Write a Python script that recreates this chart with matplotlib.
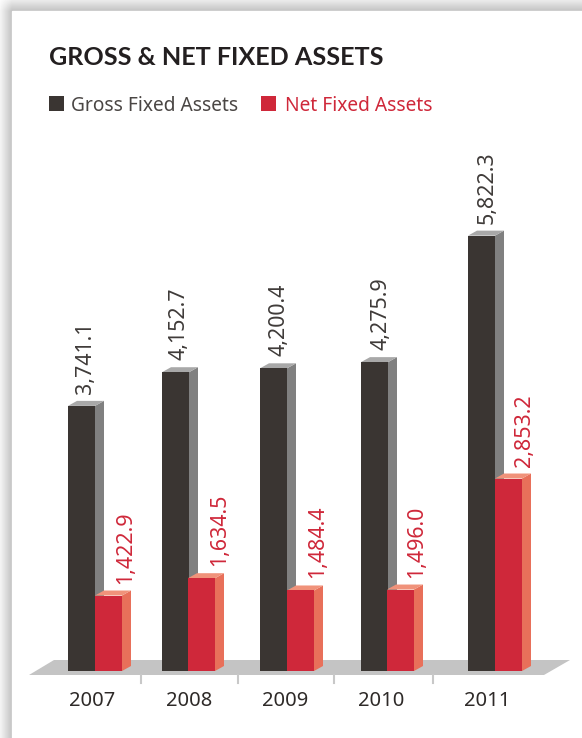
import matplotlib
matplotlib.use('Agg')
import matplotlib.pyplot as plt
from matplotlib.patches import Polygon, Rectangle
import numpy as np

years = ['2007', '2008', '2009', '2010', '2011']
gross = [3741.1, 4152.7, 4200.4, 4275.9, 5822.3]
net = [1422.9, 1634.5, 1484.4, 1496.0, 2853.2]

# pixel layout of the picture
W, H = 582, 738
base_y = 671
scale = 0.0818   # px per unit
y_min = 500
gross_left = [68, 162, 260, 361, 468]
net_left = [95, 188, 287, 387, 495]
gross_label_x = [85.5, 179.5, 278.5, 381.5, 487.5]
net_label_x = [125.5, 219.5, 317.5, 416.5, 524.5]
bar_w = 27
dx, dy = 9, 5
year_x = [92, 189, 285, 381, 487]
tick_x = [141, 238, 334, 433]

DARK = '#3a3532'
RED = '#cf283a'
FONT = 'Noto Sans'

fig = plt.figure(figsize=(W / 100, H / 100), dpi=100)

# background axes in pixels, y going down
bg = fig.add_axes([0, 0, 1, 1])
bg.set_xlim(0, W)
bg.set_ylim(H, 0)
bg.axis('off')

# soft shadow round the white panel
a = 0.15 + 0.85 * np.clip((np.arange(W) + 0.5) / 12, 0, 1)
b = 0.25 + 0.55 * np.clip((np.arange(H) + 0.5) / 11, 0, 1)
shade = 1 - 0.3 * np.outer(b, a)
bg.imshow(shade, cmap='gray', vmin=0, vmax=1, extent=(0, W, H, 0), aspect='auto', zorder=0)
bg.add_patch(Rectangle((12, 11), W - 12, H - 11, color='white', zorder=1))

# floor
bg.add_patch(Polygon([(29, 675), (54, 660), (570, 660), (544, 675)], closed=True,
                     color='#c4c4c4', lw=0, zorder=2))
for x in tick_x:
    bg.plot([x, x], [675, 683], color='#c8c8c8', lw=1.5, zorder=2)

# chart axes: x in pixels, y in values
ax = fig.add_axes([0, (H - base_y) / H, 1, base_y / H])
ax.patch.set_alpha(0)
ax.set_xlim(0, W)
ax.set_ylim(y_min, y_min + base_y / scale)
ax.axis('off')


def bars(lefts, values, front, top, side, zorder):
    dv = dy / scale
    for x, v in zip(lefts, values):
        ax.add_patch(Polygon([(x + bar_w, y_min), (x + bar_w + dx, y_min + dv),
                              (x + bar_w + dx, v + dv), (x + bar_w, v)],
                             closed=True, color=side, lw=0, zorder=zorder))
        ax.add_patch(Polygon([(x, v), (x + dx, v + dv), (x + bar_w + dx, v + dv), (x + bar_w, v)],
                             closed=True, color=top, lw=0, zorder=zorder))
    ax.bar(lefts, values, width=bar_w, align='edge', color=front, lw=0, zorder=zorder)


bars(gross_left, gross, DARK, '#a8a8a8', '#808080', 3)
bars(net_left, net, RED, '#f0927a', '#e8705a', 4)

# value labels
for x, v in zip(gross_label_x, gross):
    ax.annotate(f'{v:,.1f}', (x, v), xytext=(0, 12), textcoords='offset pixels',
                rotation=90, ha='center', va='bottom', fontsize=15.4, family=FONT, color='#3f3b39', zorder=5)
for x, v in zip(net_label_x, net):
    ax.annotate(f'{v:,.1f}', (x, v), xytext=(0, 12), textcoords='offset pixels',
                rotation=90, ha='center', va='bottom', fontsize=15.4, family=FONT, color=RED, zorder=5)

# years
for x, y in zip(year_x, years):
    bg.text(x, 706, y, ha='center', va='baseline', fontsize=14.5, family=FONT, color='#2e2a28', zorder=5)

# title and legend
bg.text(49, 65, 'GROSS & NET FIXED ASSETS', ha='left', va='baseline', fontsize=18.1,
        family='Lato', weight='bold', color='#231f20', zorder=5)
bg.add_patch(Rectangle((49, 96), 15, 15, color=DARK, lw=0, zorder=5))
bg.text(71, 111, 'Gross Fixed Assets', ha='left', va='baseline', fontsize=13.8,
        family=FONT, color='#4a4644', zorder=5)
bg.add_patch(Rectangle((261, 96), 15, 15, color=RED, lw=0, zorder=5))
bg.text(285, 111, 'Net Fixed Assets', ha='left', va='baseline', fontsize=13.8,
        family=FONT, color=RED, zorder=5)

fig.savefig('out.png', dpi=100)
